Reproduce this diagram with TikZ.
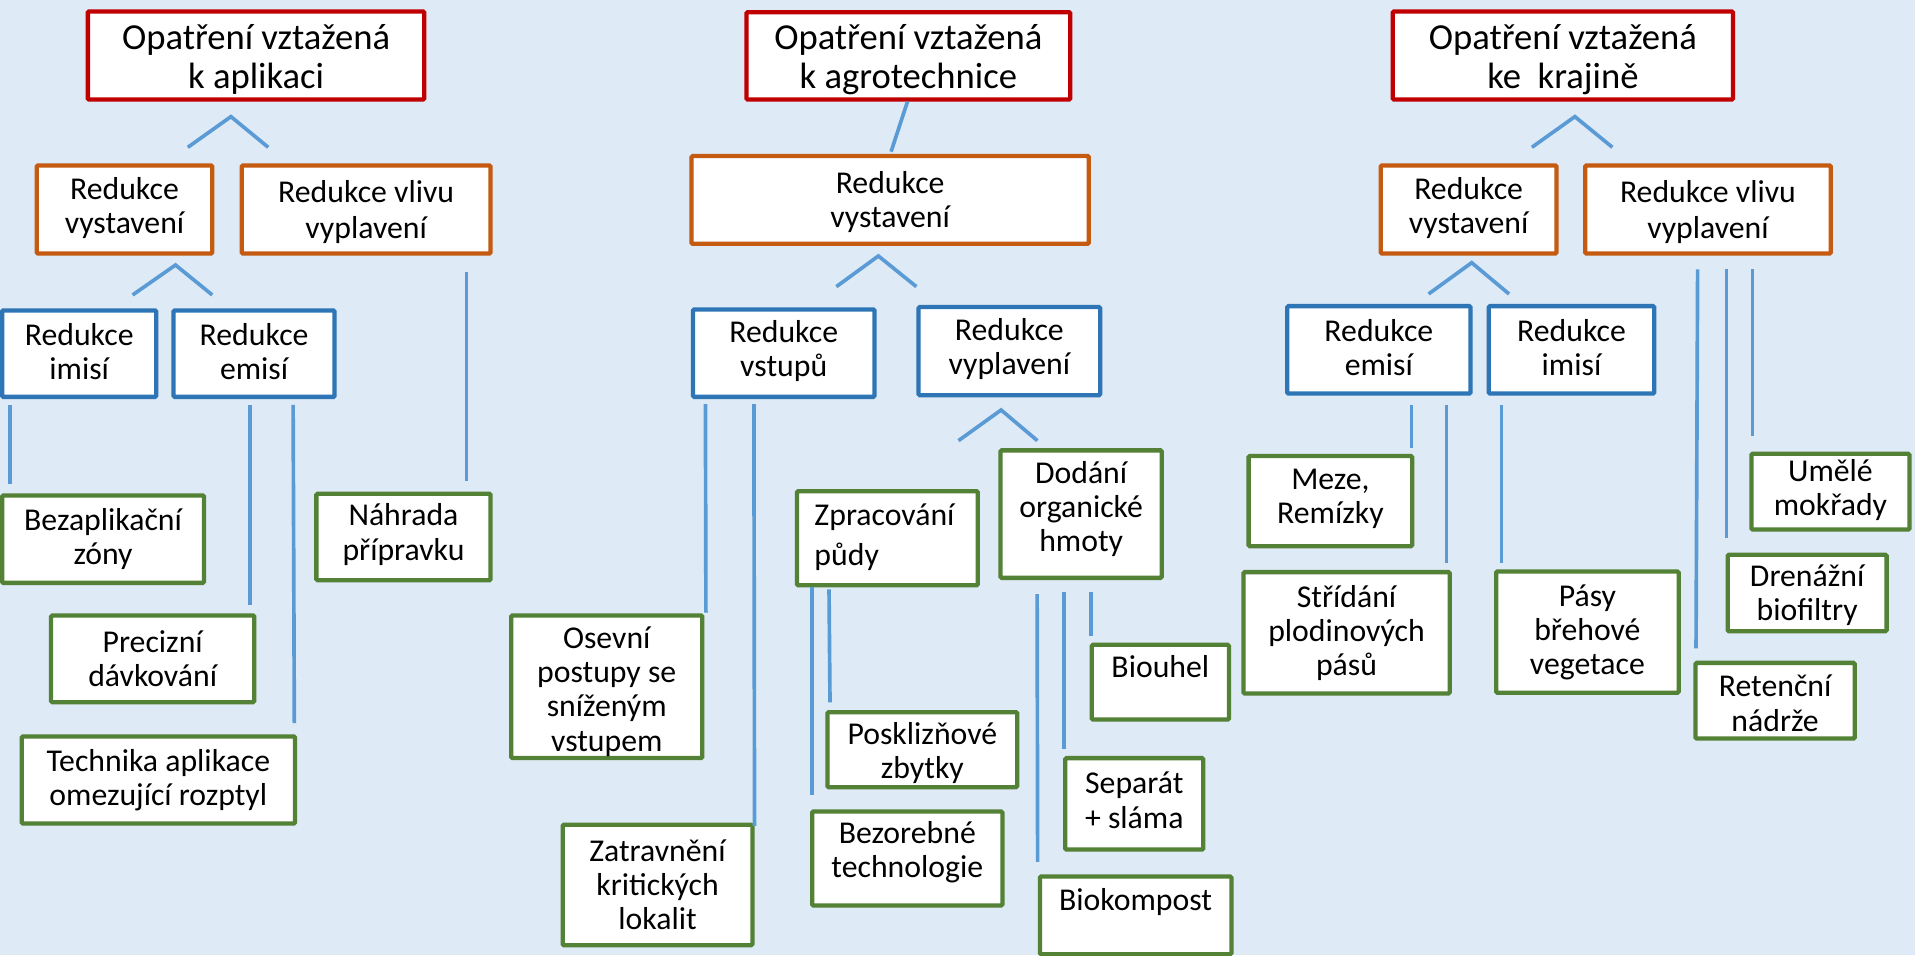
\documentclass[tikz,border=0pt]{standalone}
\usepackage{fontspec}
\setmainfont{Carlito}
\definecolor{bgc}{HTML}{DEEAF6}
\definecolor{redc}{HTML}{C00000}
\definecolor{orac}{HTML}{C55A11}
\definecolor{bluc}{HTML}{2E75B6}
\definecolor{grnc}{HTML}{538135}
\definecolor{conc}{HTML}{5B9BD5}
% box: style, name, x1, y1, x2, y2 (outer edges)
\newcommand\bx[6]{%
  \node[#1, minimum width={#5-#3-3.5}, minimum height={#6-#4-3.5}] (#2) at ({(#3+#5)/2},{(#4+#6)/2}) {};}
\begin{document}
\begin{tikzpicture}[x=1pt,y=-1pt,
  box/.style={draw, fill=white, line width=3.5pt, inner sep=0pt, rounded corners=1pt},
  rbox/.style={box, draw=redc},
  obox/.style={box, draw=orac},
  bbox/.style={box, draw=bluc},
  gbox/.style={box, draw=grnc},
  txt/.style={align=center, inner sep=0pt, font=\fontsize{26}{28}\selectfont},
  rtxt/.style={txt, font=\fontsize{30}{32}\selectfont},
  conn/.style={draw=conc, line width=3pt}]
\useasboundingbox (0,0) rectangle (1568,782);
\fill[bgc] (0,0) rectangle (1568,782);

% ---------------- column 1
\bx{rbox}{r1}{70.2}{7.6}{349.2}{83.3}
\node[rtxt] (r1t) at ([yshift=-3pt]r1.center) {Opatření vztažená\\k aplikaci};
\bx{obox}{o1a}{28.4}{133.7}{175.5}{209.4}
\node[txt] (o1at) at ([yshift=1pt]o1a.center) {Redukce\\vystavení};
\bx{obox}{o1b}{196.2}{133.7}{403.4}{209.4}
\node[txt, font=\fontsize{26}{30}\selectfont] (o1bt) at ([yshift=-2pt]o1b.center) {Redukce vlivu\\vyplavení};
\bx{bbox}{b1a}{0}{252.4}{129.7}{326.7}
\node[txt] (b1at) at ([yshift=2pt]b1a.center) {Redukce\\imisí};
\bx{bbox}{b1b}{140.4}{252.4}{275.7}{326.7}
\node[txt] (b1bt) at ([yshift=2pt]b1b.center) {Redukce\\emisí};
\bx{gbox}{bez}{0}{404}{168.8}{479}
\node[txt] (bezt) at (bez.center) {Bezaplikační\\zóny};
\bx{gbox}{nah}{257.3}{402.6}{403.4}{476.8}
\node[txt] (naht) at ([yshift=2pt]nah.center) {Náhrada\\přípravku};
\bx{gbox}{pre}{40.1}{502.2}{209.9}{576.7}
\node[txt] (pret) at (pre.center) {Precizní\\dávkování};
\bx{gbox}{tec}{16}{601.3}{243.3}{676.1}
\node[txt] (tect) at (tec.center) {Technika aplikace\\omezující rozptyl};

\path (153.8,120.6) coordinate (c1l) (189.1,95.5) coordinate (c1m) (219.6,120.6) coordinate (c1r);
\draw[conn] (c1l) -- (c1m) -- (c1r);
\path (108.6,241.5) coordinate (c2l) (143.7,217) coordinate (c2m) (173.8,241.5) coordinate (c2r);
\draw[conn] (c2l) -- (c2m) -- (c2r);
\path (8.4,331.6) coordinate (a1) (8.4,396.3) coordinate (a2);
\draw[conn] (a1) -- (a2);
\path (204.5,331.6) coordinate (a3) (204.5,495.4) coordinate (a4);
\draw[conn] (a3) -- (a4);
\path (240,331.6) coordinate (a5) (241,592) coordinate (a6);
\draw[conn] (a5) -- (a6);
\path (382,222.5) coordinate (a7) (382,393.6) coordinate (a8);
\draw[conn] (a7) -- (a8);

% ---------------- column 2
\bx{rbox}{r2}{609.4}{8.2}{878}{83.3}
\node[rtxt] (r2t) at ([yshift=-3pt]r2.center) {Opatření vztažená\\k agrotechnice};
\bx{obox}{o2}{564.5}{126}{893.2}{201.4}
\node[txt] (o2t) at ([yshift=-2pt]o2.center) {Redukce\\vystavení};
\bx{bbox}{b2a}{565.7}{251.6}{717.7}{326.7}
\node[txt] (b2at) at ([yshift=2pt]b2a.center) {Redukce\\vstupů};
\bx{bbox}{b2b}{750.3}{249.7}{902.6}{325.3}
\node[txt] (b2bt) at ([yshift=2pt]b2b.center) {Redukce\\vyplavení};
\bx{gbox}{ose}{416.8}{502.2}{576.8}{622.3}
\node[txt] (oset) at ([yshift=-4pt]ose.center) {Osevní\\postupy se\\sníženým\\vstupem};
\bx{gbox}{zat}{459}{673.6}{617.8}{775.7}
\node[txt] (zatt) at (zat.center) {Zatravnění\\kritických\\lokalit};
\bx{gbox}{zpr}{650.8}{400.4}{802.4}{480.9}
\node[txt, align=left, anchor=west, font=\fontsize{26}{32.8}\selectfont] (zprt) at (666.7,440.2) {Zpracování\\půdy};
\bx{gbox}{dod}{817.5}{367}{953}{474.9}
\node[txt] (dodt) at ([yshift=4pt]dod.center) {Dodání\\organické\\hmoty};
\bx{gbox}{pos}{675.8}{581.4}{834.6}{646.3}
\node[txt] (post) at ([yshift=-3pt]pos.center) {Posklizňové\\zbytky};
\bx{gbox}{bzo}{663.3}{662.7}{822.5}{743.2}
\node[txt] (bzot) at ([yshift=5pt]bzo.center) {Bezorebné\\technologie};
\bx{gbox}{biu}{892.2}{526.2}{1008}{590.9}
\node[txt] (biut) at ([yshift=12.5pt]biu.center) {Biouhel};
\bx{gbox}{sep}{870.5}{619}{987}{697.4}
\node[txt] (sept) at ([yshift=3pt]sep.center) {Separát\\+ sláma};
\bx{gbox}{bik}{849.7}{715.9}{1010}{783}
\node[txt] (bikt) at ([yshift=10.6pt]bik.center) {Biokompost};

\path (743,83.3) coordinate (s1) (729.6,124.2) coordinate (s2);
\draw[conn] (s1) -- (s2);
\path (684.8,234.7) coordinate (c3l) (719.2,209.6) coordinate (c3m) (750.3,234.7) coordinate (c3r);
\draw[conn] (c3l) -- (c3m) -- (c3r);
\path (784.8,360.8) coordinate (c4l) (819.7,335.7) coordinate (c4m) (849.4,360.8) coordinate (c4r);
\draw[conn] (c4l) -- (c4m) -- (c4r);
\path (577.6,330.8) coordinate (d1) (578,501.7) coordinate (d2);
\draw[conn] (d1) -- (d2);
\path (617.3,330.8) coordinate (d3) (617.8,676.3) coordinate (d4);
\draw[conn] (d3) -- (d4);
\path (664.6,480.4) coordinate (d5) (664.6,651) coordinate (d6);
\draw[conn] (d5) -- (d6);
\path (678.8,482.5) coordinate (d7) (679.6,575.1) coordinate (d8);
\draw[conn] (d7) -- (d8);
\path (849.2,486.4) coordinate (d9) (849.6,705.6) coordinate (d10);
\draw[conn] (d9) -- (d10);
\path (871.4,484.5) coordinate (d11) (871.4,613.5) coordinate (d12);
\draw[conn] (d11) -- (d12);
\path (893.5,484.5) coordinate (d13) (893.5,520.8) coordinate (d14);
\draw[conn] (d13) -- (d14);

% ---------------- column 3
\bx{rbox}{r3}{1138.7}{7.6}{1420.7}{83.3}
\node[rtxt] (r3t) at ([yshift=-3pt]r3.center) {Opatření vztažená\\ke~ krajině};
\bx{obox}{o3a}{1128.8}{133.7}{1276.2}{209.4}
\node[txt] (o3at) at ([yshift=1pt]o3a.center) {Redukce\\vystavení};
\bx{obox}{o3b}{1296.2}{133.7}{1500.7}{209.4}
\node[txt, font=\fontsize{26}{30}\selectfont] (o3bt) at ([yshift=-2pt]o3b.center) {Redukce vlivu\\vyplavení};
\bx{bbox}{b3a}{1052.3}{248.9}{1205.7}{324}
\node[txt] (b3at) at ([yshift=2pt]b3a.center) {Redukce\\emisí};
\bx{bbox}{b3b}{1217.3}{248.9}{1356.2}{324}
\node[txt] (b3bt) at ([yshift=2pt]b3b.center) {Redukce\\imisí};
\bx{gbox}{mez}{1020.6}{371.7}{1158}{449}
\node[txt] (mezt) at ([yshift=2pt]mez.center) {Meze,\\Remízky};
\bx{gbox}{str}{1016.4}{466.7}{1188.7}{569.6}
\node[txt] (strt) at (str.center) {Střídání\\plodinových\\pásů};
\bx{gbox}{pas}{1223.3}{466.2}{1376.2}{569}
\node[txt] (past) at (pas.center) {Pásy\\břehové\\vegetace};
\bx{gbox}{ume}{1432.3}{369.8}{1565.2}{435.3}
\node[txt] (umet) at ([yshift=1pt]ume.center) {Umělé\\mokřady};
\bx{gbox}{dre}{1412.9}{452.5}{1546.5}{518.6}
\node[txt] (dret) at ([yshift=-2pt]dre.center) {Drenážní\\biofiltry};
\bx{gbox}{ret}{1386.5}{541}{1520.4}{606.5}
\node[txt] (rett) at ([yshift=-2pt]ret.center) {Retenční\\nádrže};

\path (1254.3,120.6) coordinate (c5l) (1289.5,95.5) coordinate (c5m) (1320.2,120.6) coordinate (c5r);
\draw[conn] (c5l) -- (c5m) -- (c5r);
\path (1169.7,240.7) coordinate (c6l) (1205,215.1) coordinate (c6m) (1235.6,240.7) coordinate (c6r);
\draw[conn] (c6l) -- (c6m) -- (c6r);
\path (1155.6,331.6) coordinate (e1) (1155.6,367.1) coordinate (e2);
\draw[conn] (e1) -- (e2);
\path (1184.5,331.6) coordinate (e3) (1184.5,461.3) coordinate (e4);
\draw[conn] (e3) -- (e4);
\path (1229.3,331.6) coordinate (e5) (1229.3,461.3) coordinate (e6);
\draw[conn] (e5) -- (e6);
\path (1390,220.5) coordinate (e7) (1388.7,530.9) coordinate (e8);
\draw[conn] (e7) -- (e8);
\path (1413.6,220.5) coordinate (e9) (1413.6,440.8) coordinate (e10);
\draw[conn] (e9) -- (e10);
\path (1434.8,220.5) coordinate (e11) (1434.8,357) coordinate (e12);
\draw[conn] (e11) -- (e12);
\end{tikzpicture}
\end{document}
